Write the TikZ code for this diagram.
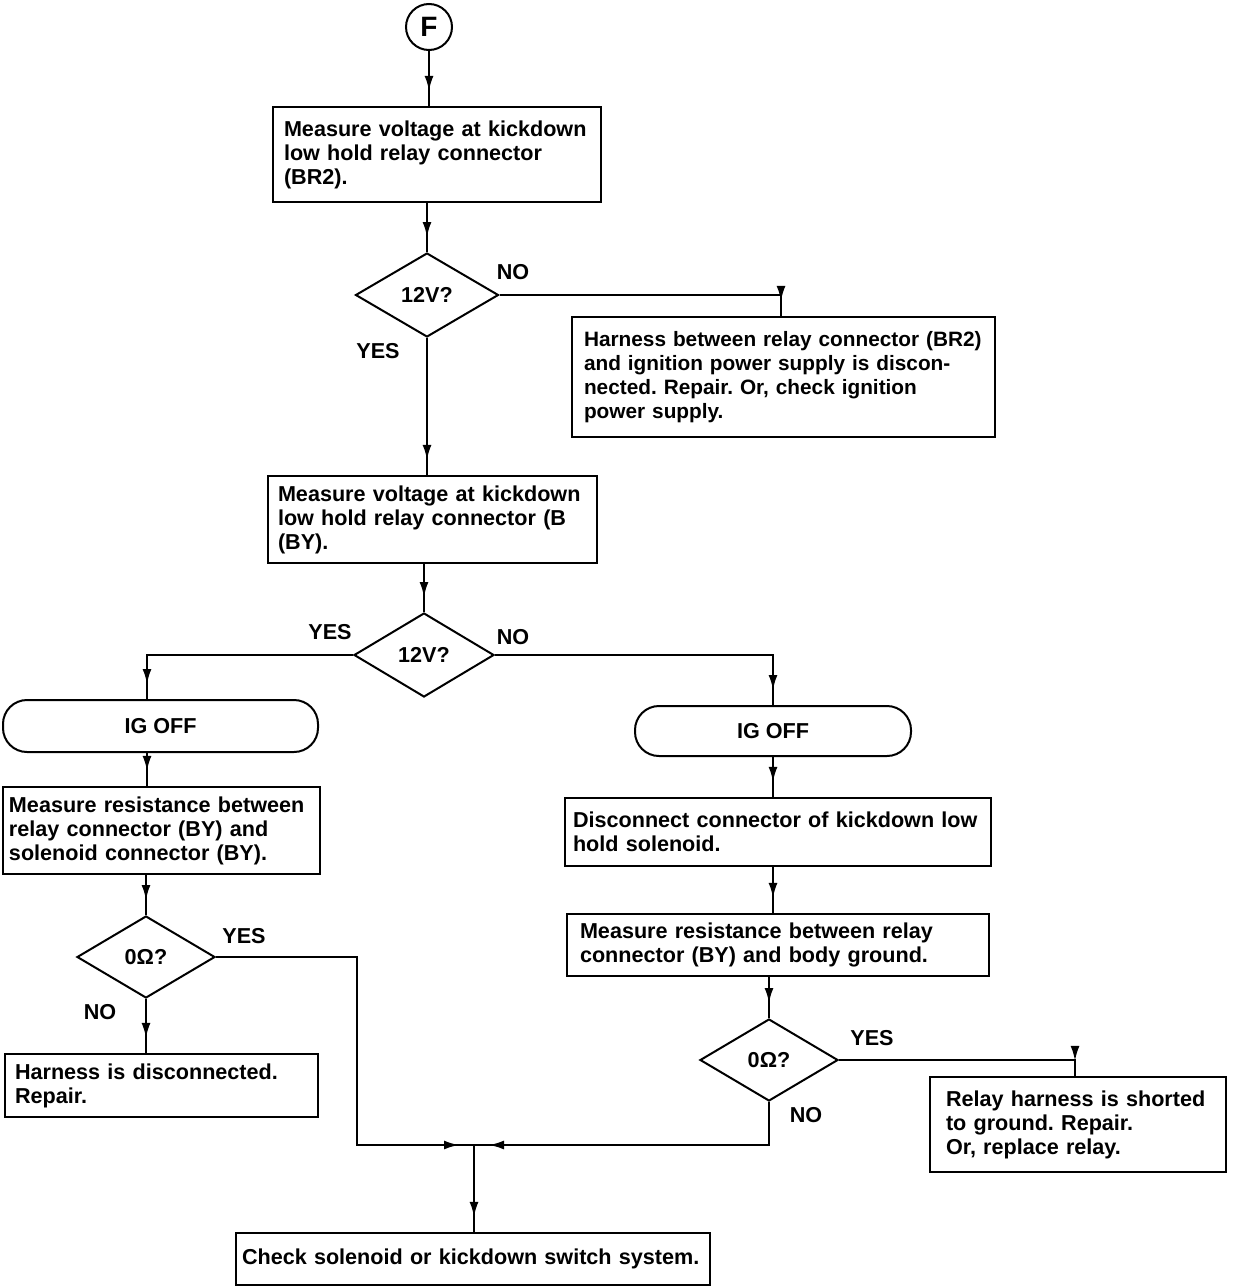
\documentclass[tikz,border=0pt]{standalone}
\usepackage{fontspec}
\setmainfont{Liberation Sans}
\usetikzlibrary{shapes.geometric,arrows.meta,decorations.markings}
\frenchspacing
\begin{document}
\begin{tikzpicture}[x=1pt,y=-1pt,
  every node/.style={font=\bfseries\fontsize{21.6}{24}\selectfont},
  box/.style={draw, line width=2.3pt, align=left, inner ysep=3pt, anchor=center},
  capsule/.style={draw, line width=2pt, rounded corners=24pt, align=center, anchor=center},
  dec/.style={draw, diamond, line width=2pt, inner sep=0pt, anchor=center},
  lbl/.style={inner sep=0pt},
  conn/.style={line width=2pt, postaction={decorate},
    decoration={markings, mark=at position -15pt with {\arrow{Latex[length=15pt,width=9pt]}}}}
]
\useasboundingbox (0,0) rectangle (1248,1288);

\node[draw, circle, line width=2pt, minimum size=46pt, inner sep=0pt, font=\bfseries\fontsize{28}{30}\selectfont] (F) at (429,27) {F};

\node[box, text width=306pt, inner xsep=11pt, minimum height=95pt] (b1) at (437,154.5)
  {\mbox{Measure voltage at kickdown}\\low hold relay connector\\(BR2).};
\node[dec, minimum width=143pt, minimum height=84pt] (d1) at (427,295) {12V?};
\node[box, text width=399pt, inner xsep=12pt, minimum height=120pt, font=\bfseries\fontsize{20.8}{24}\selectfont] (b2) at (783.5,377)
  {\mbox{Harness between relay connector (BR2)}\\\mbox{and ignition power supply is discon-}\\nected. Repair. Or, check ignition\\power supply.};
\node[box, text width=309pt, inner xsep=10pt, minimum height=87pt] (b3) at (432.5,519.5)
  {\mbox{Measure voltage at kickdown}\\low hold relay connector (B\\(BY).};
\node[dec, minimum width=140pt, minimum height=84pt] (d2) at (424,655) {12V?};

\node[capsule, minimum width=315pt, minimum height=52pt] (ig1) at (160.5,726) {IG OFF};
\node[box, text width=305pt, inner xsep=6pt, minimum height=87pt] (b4) at (161.5,830.5)
  {\mbox{Measure resistance between}\\relay connector (BY) and\\solenoid connector (BY).};
\node[dec, minimum width=138pt, minimum height=82pt] (d3) at (146,957) {0Ω?};
\node[box, text width=293pt, inner xsep=10pt, minimum height=63pt] (b5) at (161.5,1085.5)
  {Harness is disconnected.\\Repair.};

\node[capsule, minimum width=276pt, minimum height=50pt] (ig2) at (773,731) {IG OFF};
\node[box, text width=410pt, inner xsep=8pt, minimum height=68pt] (b6) at (778,832)
  {\mbox{Disconnect connector of kickdown low}\\hold solenoid.};
\node[box, text width=396pt, inner xsep=13pt, minimum height=62pt] (b7) at (778,945)
  {\mbox{Measure resistance between relay}\\\mbox{connector (BY) and body ground.}};
\node[dec, minimum width=138pt, minimum height=82pt] (d4) at (769,1060) {0Ω?};
\node[box, text width=264pt, inner xsep=16pt, minimum height=95pt] (b8) at (1078,1124.5)
  {\mbox{Relay harness is shorted}\\to ground. Repair.\\Or, replace relay.};

\node[box, text width=462pt, inner xsep=6pt, minimum height=52pt] (b9) at (473,1259)
  {\mbox{Check solenoid or kickdown switch system.}};

\coordinate (m) at (474,1145);
\coordinate (yc) at (357,1145);

% labels
\node[lbl] (l1) at (513,272) {NO};
\node[lbl] (l2) at (378,351) {YES};
\node[lbl] (l3) at (330,632) {YES};
\node[lbl] (l4) at (513,637) {NO};
\node[lbl] (l5) at (244,936) {YES};
\node[lbl] (l6) at (100,1012) {NO};
\node[lbl] (l7) at (872,1038) {YES};
\node[lbl] (l8) at (806,1115) {NO};

% connectors
\draw[conn] (F.south) -- (F.south |- b1.north);
\draw[conn] (d1.north |- b1.south) -- (d1.north);
\draw[conn] (d1.east) -| ([xshift=-2.5pt]b2.north);
\draw[conn] (d1.south) -- (d1.south |- b3.north);
\draw[conn] (d2.north |- b3.south) -- (d2.north);
\draw[conn] (d2.west) -| ([xshift=-13.5pt]ig1.north);
\draw[conn] (d2.east) -| (ig2.north);
\draw[conn] ([xshift=-13.5pt]ig1.south) -- ([xshift=-13.5pt]ig1.south |- b4.north);
\draw[conn] (d3.north |- b4.south) -- (d3.north);
\draw[conn] (d3.south) -- (d3.south |- b5.north);
\draw[conn] (d3.east) -| (yc) -- (m);
\draw[conn] (ig2.south) -- (ig2.south |- b6.north);
\draw[conn] (ig2.south |- b6.south) -- (ig2.south |- b7.north);
\draw[conn] (d4.north |- b7.south) -- (d4.north);
\draw[conn] (d4.east) -| ([xshift=-3pt]b8.north);
\draw[conn] (d4.south) |- (m);
\draw[conn] (m) -- (m |- b9.north);
\end{tikzpicture}
\end{document}
